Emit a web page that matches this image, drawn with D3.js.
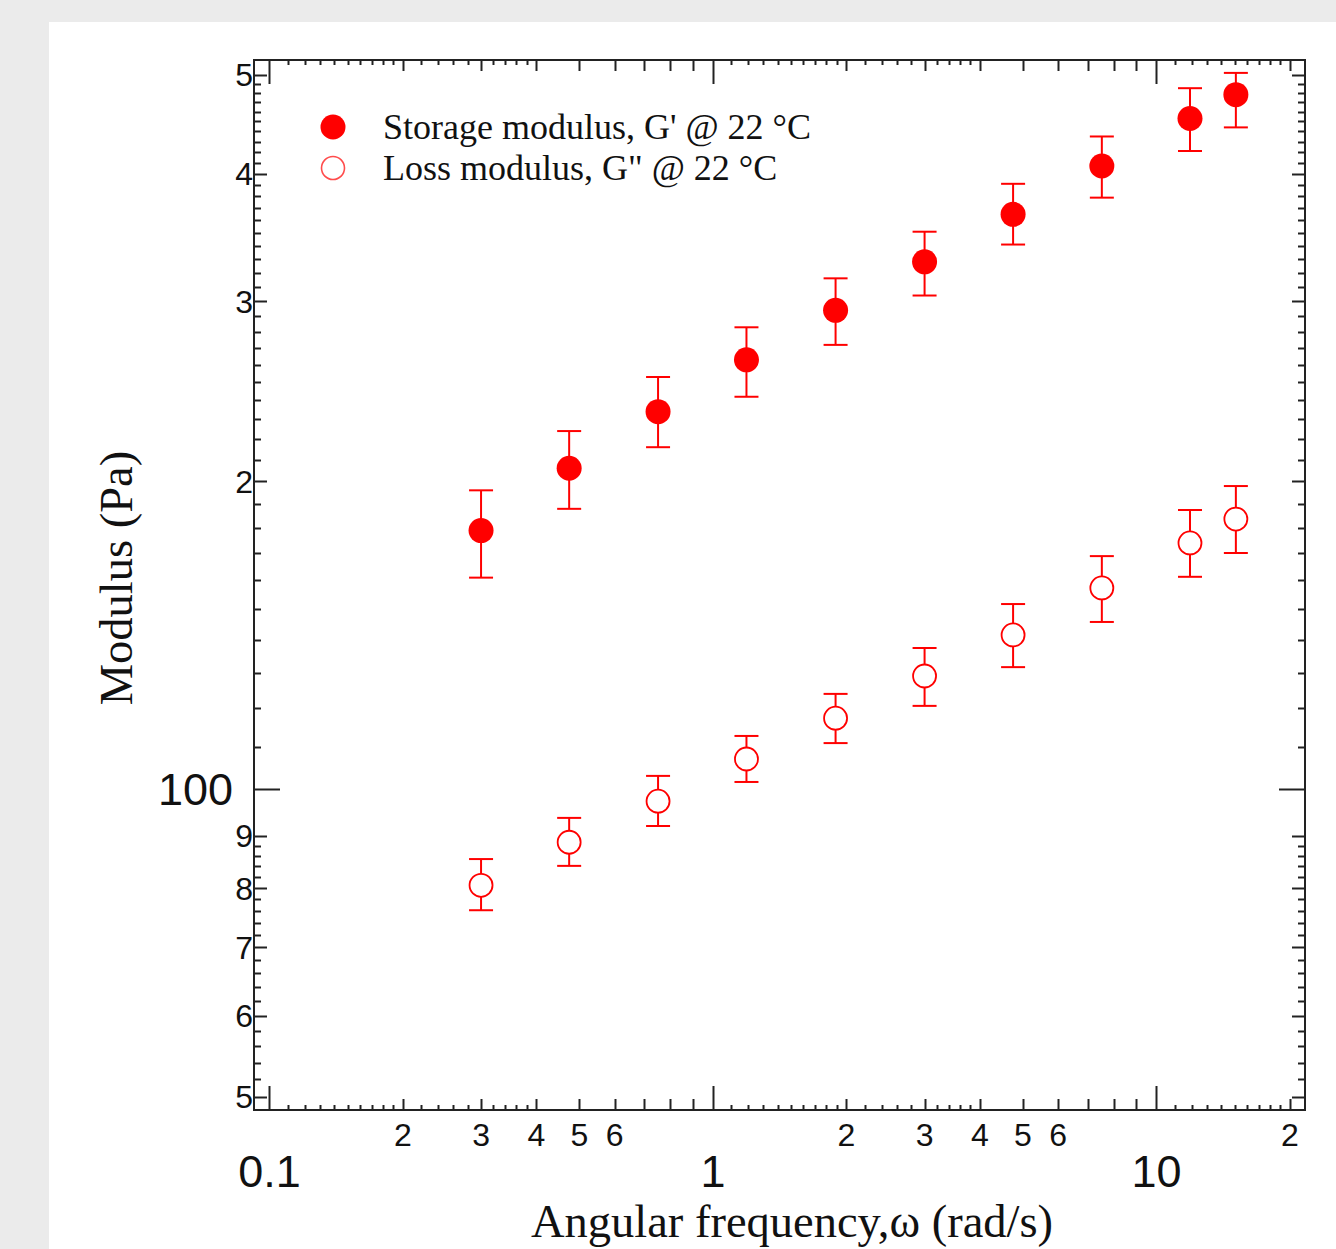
<!DOCTYPE html>
<html>
<head>
<meta charset="utf-8">
<script src="https://cdn.jsdelivr.net/npm/d3@7"></script>
<style>
  html, body { margin: 0; padding: 0; background: #ebebeb; }
  svg { display: block; }
</style>
</head>
<body>
<svg id="chart" width="1336" height="1249"></svg>
<script>
// Angular frequency (rad/s)
const omega = [0.3, 0.474, 0.752, 1.19, 1.89, 3.0, 4.75, 7.53, 11.9, 15.1];
// Storage modulus G' (Pa) with error-bar limits
const gStorage   = [179, 206, 234, 263, 294, 328, 365, 407, 453, 478];
const gStorageHi = [196, 224, 253, 283, 316, 351, 391, 435, 485, 502];
const gStorageLo = [161, 188, 216, 242, 272, 304, 341, 379, 421, 444];
// Loss modulus G'' (Pa) with error-bar limits
const gLoss   = [80.5, 88.7, 97.3, 107, 117.3, 129, 141.5, 157.3, 174.1, 183.7];
const gLossHi = [85.4, 93.7, 103, 112.7, 123.9, 137.4, 151.7, 169, 187.5, 197.9];
const gLossLo = [76.1, 84.1, 92.0, 101.6, 110.9, 120.6, 131.6, 145.7, 161.3, 170.2];

const legendLabels = ["Storage modulus, G' @ 22 \u00B0C", "Loss modulus, G\" @ 22 \u00B0C"];

// Tick values
const xDecades = [0.1, 1, 10];
const xMinorMult = [1.1, 1.2, 1.3, 1.4, 1.5, 1.6, 1.7, 1.8, 1.9, 2.2, 2.4, 2.6, 2.8, 3.2, 3.4, 3.6, 3.8];
const xMediumMult = [2, 3, 4, 5, 6, 7, 8, 9];
const xSmallLabelMult = [2, 3, 4, 5, 6];
const xBigLabels = ["0.1", "1", "10"];

const yMajor = [100];
const yMedium = [50, 60, 70, 80, 90, 200, 300, 400, 500];
const yMinor = [52, 54, 56, 58, 62, 64, 66, 68, 72, 74, 76, 78, 82, 84, 86, 88,
                110, 120, 130, 140, 150, 160, 170, 180, 190,
                210, 220, 230, 240, 250, 260, 270, 280, 290,
                310, 320, 330, 340, 350, 360, 370, 380, 390,
                410, 420, 430, 440, 450, 460, 470, 480, 490];
const yLabels = [[50, "5"], [60, "6"], [70, "7"], [80, "8"], [90, "9"], [200, "2"], [300, "3"], [400, "4"], [500, "5"]];

const svg = d3.select("#chart");
const W = 1336, H = 1249;
const frame = { left: 254, right: 1305, top: 60, bottom: 1110 };

svg.append("rect").attr("x", 49).attr("y", 22).attr("width", W - 49).attr("height", H - 22).attr("fill", "#ffffff");

const x = d3.scaleLog().domain([0.0923, 21.62]).range([frame.left, frame.right]);
const y = d3.scaleLog().domain([48.52, 516.8]).range([frame.bottom, frame.top]);

const xMax = x.domain()[1];
const xMinor = [], xMedium = [], xSmallLabels = [];
xDecades.forEach(d => {
  xMinorMult.forEach(m => { const v = d * m; if (v < xMax) xMinor.push(v); });
  xMediumMult.forEach(m => { const v = d * m; if (v < xMax) xMedium.push(v); });
  xSmallLabelMult.forEach(m => { const v = d * m; if (v < xMax) xSmallLabels.push(v); });
});

const axisColor = "#222";
const axes = svg.append("g").attr("stroke", axisColor).attr("stroke-width", 2).attr("fill", "none");

// Inward ticks on all four sides of the frame
function xTicks(vals, len) {
  vals.forEach(v => {
    const px = Math.round(x(v)) + 0.5;
    axes.append("line").attr("x1", px).attr("x2", px).attr("y1", frame.bottom).attr("y2", frame.bottom - len);
    axes.append("line").attr("x1", px).attr("x2", px).attr("y1", frame.top).attr("y2", frame.top + len);
  });
}
function yTicks(vals, len) {
  vals.forEach(v => {
    const py = Math.round(y(v)) + 0.5;
    axes.append("line").attr("y1", py).attr("y2", py).attr("x1", frame.left).attr("x2", frame.left + len);
    axes.append("line").attr("y1", py).attr("y2", py).attr("x1", frame.right).attr("x2", frame.right - len);
  });
}
xTicks(xMinor, 5);
xTicks(xMedium, 11);
xTicks(xDecades, 24);
yTicks(yMinor, 7);
yTicks(yMedium, 13);
yTicks(yMajor, 26);

axes.append("rect")
  .attr("x", frame.left).attr("y", frame.top)
  .attr("width", frame.right - frame.left).attr("height", frame.bottom - frame.top);

// Tick labels
const sans = "'Liberation Sans', Arial, sans-serif";
const serif = "'Liberation Serif', 'Times New Roman', serif";
const labels = svg.append("g").attr("fill", "#111").attr("font-family", sans);

labels.selectAll("text.xs").data(xSmallLabels).join("text")
  .attr("x", d => x(d)).attr("y", 1146)
  .attr("text-anchor", "middle").attr("font-size", 32)
  .text(d => { const r = d / Math.pow(10, Math.floor(Math.log10(d) + 1e-9)); return String(Math.round(r)); });

labels.selectAll("text.xb").data(xDecades).join("text")
  .attr("x", d => x(d)).attr("y", 1187)
  .attr("text-anchor", "middle").attr("font-size", 45)
  .text((d, i) => xBigLabels[i]);

labels.selectAll("text.ys").data(yLabels).join("text")
  .attr("x", 253).attr("y", d => y(d[0]) + 11.5)
  .attr("text-anchor", "end").attr("font-size", 32)
  .text(d => d[1]);

labels.append("text")
  .attr("x", 233).attr("y", y(100) + 16)
  .attr("text-anchor", "end").attr("font-size", 45)
  .text("100");

// Axis titles
svg.append("text")
  .attr("x", 792).attr("y", 1237)
  .attr("text-anchor", "middle").attr("font-family", serif).attr("font-size", 46.5).attr("fill", "#111")
  .text("Angular frequency,\u03C9 (rad/s)");

svg.append("text")
  .attr("transform", "translate(132,578) rotate(-90)")
  .attr("text-anchor", "middle").attr("font-family", serif).attr("font-size", 46.5).attr("fill", "#111")
  .text("Modulus (Pa)");

// Data marks
const red = "#ff0000";
const capHalf = 12;
const plot = svg.append("g");

function errorBars(vals, hi, lo) {
  const g = plot.append("g").attr("stroke", red).attr("stroke-width", 2).attr("fill", "none");
  omega.forEach((w, i) => {
    const cx = x(w);
    g.append("line").attr("x1", cx).attr("x2", cx).attr("y1", y(hi[i])).attr("y2", y(lo[i]));
    g.append("line").attr("x1", cx - capHalf).attr("x2", cx + capHalf).attr("y1", y(hi[i])).attr("y2", y(hi[i]));
    g.append("line").attr("x1", cx - capHalf).attr("x2", cx + capHalf).attr("y1", y(lo[i])).attr("y2", y(lo[i]));
  });
}
errorBars(gStorage, gStorageHi, gStorageLo);
errorBars(gLoss, gLossHi, gLossLo);

plot.selectAll("circle.storage").data(gStorage).join("circle")
  .attr("cx", (d, i) => x(omega[i])).attr("cy", d => y(d))
  .attr("r", 12.5).attr("fill", red);

plot.selectAll("circle.loss").data(gLoss).join("circle")
  .attr("cx", (d, i) => x(omega[i])).attr("cy", d => y(d))
  .attr("r", 11.5).attr("fill", "#fff").attr("stroke", red).attr("stroke-width", 1.8);

// Legend
const legend = svg.append("g");
const legendRows = [127, 168];
legend.append("circle").attr("cx", 333).attr("cy", legendRows[0]).attr("r", 12.5).attr("fill", red);
legend.append("circle").attr("cx", 333).attr("cy", legendRows[1]).attr("r", 11.5)
  .attr("fill", "none").attr("stroke", red).attr("stroke-opacity", 0.7).attr("stroke-width", 1.6);
legend.selectAll("text").data(legendLabels).join("text")
  .attr("x", 383).attr("y", (d, i) => legendRows[i] + 12)
  .attr("font-family", serif).attr("font-size", 36).attr("fill", "#111")
  .text(d => d);
</script>
</body>
</html>
